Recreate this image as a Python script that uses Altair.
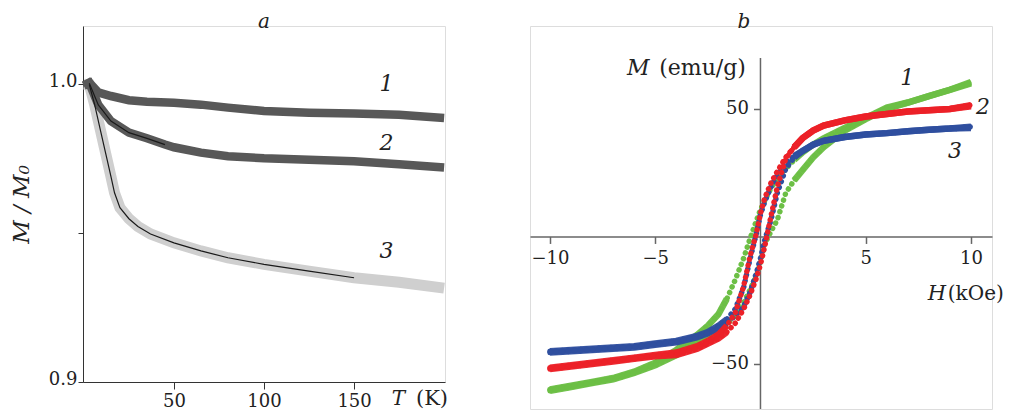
import altair as alt
import pandas as pd

# ---------------- panel a : M/M0 vs T ----------------
T_1 = [0, 3, 8, 15, 25, 35, 50, 65, 80, 100, 125, 150, 175, 200]
M_1 = [0.9995, 1.0005, 0.9972, 0.9960, 0.9946, 0.9941, 0.9937, 0.9931, 0.9921,
       0.9910, 0.9904, 0.9901, 0.9897, 0.9886]
T_2 = [0, 3, 8, 15, 25, 35, 45, 50, 65, 80, 100, 125, 150, 175, 200]
M_2 = [0.9995, 1.0003, 0.9930, 0.9876, 0.9837, 0.9818, 0.9797, 0.9788, 0.9770,
       0.9758, 0.9751, 0.9746, 0.9741, 0.9731, 0.9720]
T_3 = [0, 3, 6, 9, 12, 15, 17, 20, 25, 30, 37, 50, 65, 80, 100, 125, 150, 175, 200]
M_3 = [1.0000, 0.9998, 0.9930, 0.9850, 0.9770, 0.9690, 0.9635, 0.9585, 0.9548,
       0.9522, 0.9497, 0.9467, 0.9440, 0.9417, 0.9395, 0.9372, 0.9350, 0.9335, 0.9315]
A_LABELS = ["1", "2", "3"]
A_LABEL_T = [168, 168, 168]
A_LABEL_M = [1.0, 0.9802, 0.944]
A_XTICKS = [50, 100, 150]
A_YTICKS = [0.9, 0.95, 1.0]

# ---------------- panel b : M vs H hysteresis ----------------
H_GRID = [-10, -9, -8, -7, -6, -5, -4, -3, -2.5, -2, -1.6, -1.2, -0.8, -0.5, -0.2,
          0, 0.2, 0.5, 0.8, 1.2, 1.6, 2, 2.5, 3, 4, 5, 6, 7, 8, 9, 10]
GREEN_DESC = [-60, -58.5, -57, -55.5, -53, -49.5, -44.5, -38.5, -35, -30.5, -24.5, -17,
              -8.5, -1, 6, 10.5, 14, 19, 22.5, 26.5, 30, 33, 36, 38.5, 42.5, 46.5,
              50.5, 52.5, 55, 57.5, 60.5]
GREEN_ASC = [-60.5, -59, -57.5, -56, -53.5, -50.5, -46.5, -41, -39, -37, -34.5, -31,
             -26, -21, -15.5, -10, -3, 2, 6.5, 17, 22, 26, 31, 35, 41.5, 46, 50,
             52.5, 55, 57.5, 60]
RED_DESC = [-51.5, -50.5, -49.5, -48.5, -47.5, -46.5, -45.5, -43, -41, -38.5, -35, -30,
            -19.5, -8, 1, 9, 15, 21, 25.5, 31, 35, 38.5, 41.5, 43.5, 45.5, 47, 48,
            49, 49.5, 50, 51]
RED_ASC = [-52, -51, -50, -49, -48, -47, -46.5, -44, -42, -40, -37.5, -34, -28.5, -23,
           -16.5, -11, -4, 8, 19.5, 30.5, 35, 38.5, 41.5, 43.5, 45.5, 47, 48, 49,
           49.5, 50, 51.5]
BLUE_DESC = [-45, -44.5, -44, -43.5, -43, -42, -41, -39, -37.5, -35, -32.5, -28.5, -20,
             -9, 1, 8.5, 13.5, 19.5, 24, 28.5, 31.5, 33.5, 36, 37.5, 39, 40, 40.5,
             41.2, 41.8, 42.3, 43]
BLUE_ASC = [-45.5, -45, -44.5, -44, -43.5, -42.5, -41.5, -39.5, -38, -36, -34, -31,
            -27.5, -22, -14.5, -8.5, -1.5, 6.5, 17, 26.5, 31, 33.5, 36, 37.5, 39, 40,
            40.5, 41.2, 41.8, 42.3, 42.5]
B_LABELS = ["1", "2", "3"]
B_LABEL_H = [6.97, 10.57, 9.24]
B_LABEL_M = [62.2, 50.8, 33.5]
B_XTICKS = [-10, -5, 5, 10]
B_YTICKS = [-50, 50]

FONT = "DejaVu Serif"
INK = "#222222"
GREEN, RED, BLUE = "#6cbf45", "#ec2128", "#2f4f9f"

# ---------------- panel a chart ----------------
A_W, A_H = 362, 356
xa = alt.X("T:Q", scale=alt.Scale(domain=[-0.5, 200.5], nice=False, zero=False),
           axis=alt.Axis(values=A_XTICKS, title=None, grid=False, tickSize=7,
                         labelPadding=3, domainColor="#333", tickColor="#333",
                         labelFont=FONT, labelFontSize=18, labelColor=INK))
ya = alt.Y("M:Q", scale=alt.Scale(domain=[0.9, 1.0195], nice=False, zero=False),
           axis=alt.Axis(values=A_YTICKS, grid=False, tickSize=5, labelPadding=1,
                         labelExpr="datum.value == 0.95 ? '' : format(datum.value, '.1f')",
                         labelOffset=-3,
                         domainColor="#333", tickColor="#333", labelFont=FONT,
                         labelFontSize=18, labelColor=INK, title="M / M₀",
                         titleFont=FONT, titleFontStyle="italic", titleFontWeight="normal",
                         titleFontSize=23, titleColor=INK, titlePadding=15))

df12 = pd.concat([
    pd.DataFrame({"T": T_1, "M": M_1, "curve": "1"}),
    pd.DataFrame({"T": T_2, "M": M_2, "curve": "2"}),
])
df3 = pd.DataFrame({"T": T_3, "M": M_3, "curve": "3"})
df_thin = pd.concat([
    df3[(df3["T"] >= 3) & (df3["T"] <= 150)],
    pd.DataFrame({"T": T_2, "M": M_2, "curve": "2"}).query("T >= 3 and T <= 45"),
])

band3 = alt.Chart(df3).mark_line(strokeWidth=11, color="#cfcfcf").encode(x=xa, y=ya)
band12 = alt.Chart(df12).mark_line(strokeWidth=8.5, color="#585858").encode(
    x=xa, y=ya, detail="curve:N")
thin = alt.Chart(df_thin).mark_line(strokeWidth=1.2, color="#1a1a1a").encode(
    x=xa, y=ya, detail="curve:N")
lab_a = alt.Chart(pd.DataFrame({"T": A_LABEL_T, "M": A_LABEL_M, "txt": A_LABELS})).mark_text(
    font=FONT, fontSize=22, fontStyle="italic", color=INK).encode(x=xa, y=ya, text="txt:N")
tl = alt.Chart(pd.DataFrame({"T": [171], "M": [0.89413], "txt": ["T"]})).mark_text(
    font=FONT, fontSize=20, fontStyle="italic", align="left", color=INK).encode(
    x=xa, y=ya, text="txt:N")
tr = alt.Chart(pd.DataFrame({"T": [202.2], "M": [0.89413], "txt": ["(K)"]})).mark_text(
    font=FONT, fontSize=21, align="right", color=INK).encode(x=xa, y=ya, text="txt:N")

panel_a = alt.layer(band3, band12, thin, lab_a, tl, tr).properties(
    width=A_W, height=A_H,
    title=alt.TitleParams("a", font=FONT, fontStyle="italic", fontSize=20,
                          fontWeight="normal", anchor="middle", offset=-5.7, color=INK))

# ---------------- panel b chart ----------------
B_W, B_H = 462, 383
XMIN, XMAX = -10.95, 11.0
YMIN, YMAX = -67.65, 82.5
x_off = -(B_W * (0 - XMIN) / (XMAX - XMIN))
y_off = -(B_H * (0 - YMIN) / (YMAX - YMIN))

xb = alt.X("H:Q", scale=alt.Scale(domain=[XMIN, XMAX], nice=False, zero=False),
           axis=alt.Axis(values=B_XTICKS, title=None, grid=False, offset=y_off,
                         tickSize=7, labelPadding=6, domainColor="#666", domainWidth=1.5,
                         tickColor="#666", tickWidth=1.5, labelFont=FONT,
                         labelFontSize=18, labelColor=INK))
yb = alt.Y("M:Q", scale=alt.Scale(domain=[YMIN, YMAX], nice=False, zero=False),
           axis=alt.Axis(values=B_YTICKS, title=None, grid=False, offset=x_off,
                         domain=False, tickSize=7, labelPadding=5, tickColor="#666",
                         tickWidth=1.5, labelFont=FONT, labelFontSize=18, labelColor=INK))


def branch_layers(desc, asc, color):
    d = pd.concat([
        pd.DataFrame({"H": H_GRID, "M": desc, "branch": "desc"}),
        pd.DataFrame({"H": H_GRID, "M": asc, "branch": "asc"}),
    ])
    sat = d[d["H"].abs() >= 1.6].copy()
    sat["seg"] = sat["branch"] + (sat["H"] > 0).map({True: "+", False: "-"})
    band = alt.Chart(sat).mark_line(strokeWidth=6.5, color=color, opacity=0.95).encode(
        x=xb, y=yb, detail="seg:N")
    dots = alt.Chart(d).mark_line(strokeWidth=5.5, strokeDash=[0.1, 6],
                                  strokeCap="round", color=color).encode(
        x=xb, y=yb, detail="branch:N")
    return [band, dots]


yline = alt.Chart(pd.DataFrame({"H": [0], "M": [YMIN], "M2": [70]})).mark_rule(
    color="#666", strokeWidth=1.5).encode(x=xb, y=yb, y2="M2:Q")
lab_b = alt.Chart(pd.DataFrame({"H": B_LABEL_H, "M": B_LABEL_M, "txt": B_LABELS})).mark_text(
    font=FONT, fontSize=22, fontStyle="italic", color=INK).encode(x=xb, y=yb, text="txt:N")
m_t = alt.Chart(pd.DataFrame({"H": [-6.34], "M": [66.0], "txt": ["M"]})).mark_text(
    font=FONT, fontSize=22, fontStyle="italic", align="left", color=INK).encode(
    x=xb, y=yb, text="txt:N")
m_u = alt.Chart(pd.DataFrame({"H": [-0.69], "M": [66.0], "txt": ["(emu/g)"]})).mark_text(
    font=FONT, fontSize=22, align="right", color=INK).encode(x=xb, y=yb, text="txt:N")
h_t = alt.Chart(pd.DataFrame({"H": [7.95], "M": [-22.5], "txt": ["H"]})).mark_text(
    font=FONT, fontSize=21, fontStyle="italic", align="left", color=INK).encode(
    x=xb, y=yb, text="txt:N")
h_u = alt.Chart(pd.DataFrame({"H": [11.56], "M": [-22.5], "txt": ["(kOe)"]})).mark_text(
    font=FONT, fontSize=20, align="right", color=INK).encode(x=xb, y=yb, text="txt:N")

panel_b = alt.layer(
    yline,
    *branch_layers(GREEN_DESC, GREEN_ASC, GREEN),
    *branch_layers(BLUE_DESC, BLUE_ASC, BLUE),
    *branch_layers(RED_DESC, RED_ASC, RED),
    lab_b, m_t, m_u, h_t, h_u,
).properties(
    width=B_W, height=B_H,
    title=alt.TitleParams("b", font=FONT, fontStyle="italic", fontSize=20,
                          fontWeight="normal", anchor="middle", offset=-5.7, dx=-17,
                          color=INK))

chart = alt.hconcat(panel_a, panel_b, spacing=85, bounds="flush").properties(
    padding={"left": 1, "top": 3, "right": 0, "bottom": 0}
).configure_view(stroke=None).configure(background="white")

chart.save("out.html", embed_options={"renderer": "svg", "actions": False})
